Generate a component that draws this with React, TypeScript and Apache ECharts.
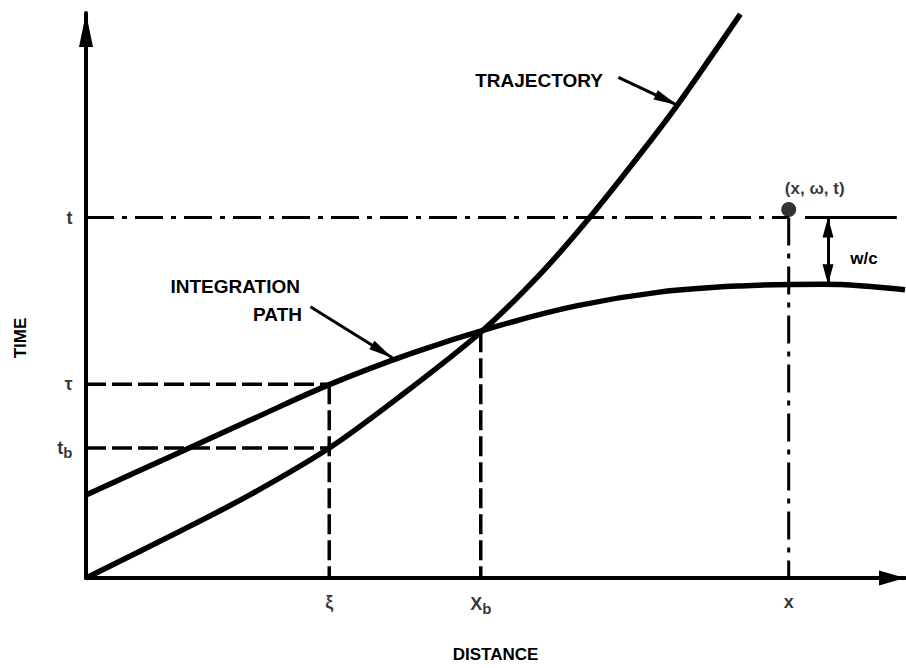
import React, { useEffect, useRef } from "react";
import * as echarts from "echarts";

// ---- data (distance / time units) ----
const trajectoryX = [0, 1.15, 2.0, 2.97, 3.83, 4.82, 5.54, 6.15, 6.76, 7.22, 7.99];
const trajectoryY = [0, 0.83, 1.47, 2.3, 3.21, 4.35, 5.37, 6.38, 7.49, 8.37, 9.98];

const pathX = [0, 1, 2, 3, 4, 5, 6, 7, 8, 9, 10];
const pathY = [1.47, 2.13, 2.79, 3.44, 3.99, 4.45, 4.82, 5.06, 5.17, 5.2, 5.1];

const xTickNames = ["ξ", "X_b", "x"];
const xTickValues = [2.97, 4.82, 8.58];
const yTickNames = ["t", "τ", "t_b"];
const yTickValues = [6.38, 3.43, 2.3];
const crossingTime = [4.35]; // where trajectory meets integration path at X_b

const referenceSegment = [8.78, 9.9]; // solid reference line at t, right of the point
const wcArrow = [9.06, 6.38, 5.2]; // x, from t down to the path
const trajectoryArrow = [[6.5, 8.86], [7.22, 8.37]];
const pathArrow = [[2.74, 4.8], [3.74, 3.9]];

const FONT = '"Liberation Sans", Arial, Helvetica, sans-serif';

function fmt(n: string) {
  if (n.includes("_")) {
    const [a, b] = n.split("_");
    return `{m|${a}}{s|${b}}`;
  }
  return `{m|${n}}`;
}

export default function App() {
  const ref = useRef<HTMLDivElement>(null);
  useEffect(() => {
    const chart = echarts.init(ref.current!, null, { renderer: "svg" });
    const [xiV, xbV, xV] = xTickValues;
    const [tV, tauV, tbV] = yTickValues;
    const xbY = crossingTime[0];

    const seg = (data: number[][], type: any, width: number) => ({
      type: "line",
      data,
      symbol: "none",
      silent: true,
      clip: false,
      lineStyle: { color: "#000", width, type, cap: "butt" },
      z: 2,
    });

    const rich = {
      m: { fontFamily: FONT, fontWeight: "bold", fontSize: 18, color: "#000" },
      s: { fontFamily: FONT, fontWeight: "bold", fontSize: 15, color: "#000", padding: [8, 0, 0, 0] },
    };

    const dash = [20, 6];
    const dashDot = [28, 8, 5, 8];

    const option: any = {
      animation: false,
      grid: { left: 86, right: 1, top: 13, bottom: 78 },
      xAxis: {
        type: "value",
        min: 0,
        max: 10,
        axisLine: {
          lineStyle: { color: "#000", width: 4 },
          symbol: ["none", "triangle"],
          symbolSize: [15, 26],
          symbolOffset: [0, -13],
        },
        axisTick: { show: false },
        axisLabel: { show: false },
        splitLine: { show: false },
        name: "DISTANCE",
        nameLocation: "middle",
        nameGap: 68,
        nameTextStyle: { fontFamily: FONT, fontWeight: "bold", fontSize: 17, color: "#000" },
      },
      yAxis: {
        type: "value",
        min: 0,
        max: 10,
        axisLine: {
          lineStyle: { color: "#000", width: 4 },
          symbol: ["none", "triangle"],
          symbolSize: [14, 34],
          symbolOffset: [0, -17],
        },
        axisTick: { show: false },
        axisLabel: { show: false },
        splitLine: { show: false },
      },
      series: [
        {
          type: "line",
          name: "TRAJECTORY",
          data: trajectoryX.map((x, i) => [x, trajectoryY[i]]),
          smooth: 0.3,
          symbol: "none",
          clip: false,
          silent: true,
          lineStyle: { color: "#000", width: 5.5 },
          z: 3,
          markLine: {
            silent: true,
            animation: false,
            symbol: ["none", "triangle"],
            symbolSize: [10, 24],
            symbolOffset: [[0, 0], [0, 12]],
            lineStyle: { color: "#000", width: 3, type: "solid" },
            label: { show: false },
            data: [
              [{ coord: trajectoryArrow[0] }, { coord: trajectoryArrow[1] }],
              [{ coord: pathArrow[0] }, { coord: pathArrow[1] }],
            ],
          },
        },
        {
          type: "line",
          name: "INTEGRATION PATH",
          data: pathX.map((x, i) => [x, pathY[i]]),
          smooth: 0.4,
          symbol: "none",
          clip: false,
          silent: true,
          lineStyle: { color: "#000", width: 5.5 },
          z: 3,
          markLine: {
            silent: true,
            animation: false,
            symbol: ["triangle", "triangle"],
            symbolSize: [11, 20],
            symbolOffset: [[0, 10], [0, 10]],
            lineStyle: { color: "#000", width: 3, type: "solid" },
            label: { show: false },
            data: [[{ coord: [wcArrow[0], wcArrow[1]] }, { coord: [wcArrow[0], wcArrow[2]] }]],
          },
        },
        seg([[0, tauV], [xiV, tauV]], dash, 3.5),
        seg([[0, tbV], [xiV, tbV]], dash, 3.5),
        seg([[xiV, tauV], [xiV, 0]], dash, 3.5),
        seg([[xbV, xbY], [xbV, 0]], dash, 3.5),
        seg([[0, tV], [xV, tV]], dashDot, 3),
        seg([[xV, tV], [xV, 0]], dashDot, 3),
        seg([[referenceSegment[0], tV], [referenceSegment[1], tV]], "solid", 3),
        {
          type: "scatter",
          data: [[xV, tV]],
          symbolSize: 15,
          symbolOffset: [0, -8],
          itemStyle: { color: "#000" },
          silent: true,
          z: 4,
          label: {
            show: true,
            position: "top",
            distance: 5,
            formatter: "(x, ω, t)",
            fontFamily: FONT,
            fontWeight: "bold",
            fontSize: 17,
            color: "#000",
            offset: [26, 0],
          },
        },
        {
          type: "scatter",
          data: yTickNames.map((n, i) => ({ name: n, value: [0, yTickValues[i]] })),
          symbolSize: 1,
          itemStyle: { color: "rgba(0,0,0,0)" },
          silent: true,
          label: { show: true, position: "left", distance: 13, formatter: (p: any) => fmt(p.name), rich },
        },
        {
          type: "scatter",
          data: xTickNames.map((n, i) => ({ name: n, value: [xTickValues[i], 0] })),
          symbolSize: 1,
          itemStyle: { color: "rgba(0,0,0,0)" },
          silent: true,
          label: { show: true, position: "bottom", distance: 14, formatter: (p: any) => fmt(p.name), rich },
        },
      ],
      graphic: [
        {
          type: "text",
          x: 603,
          y: 80,
          style: { text: "TRAJECTORY", font: `bold 19px ${FONT}`, fill: "#000", textAlign: "right", textVerticalAlign: "middle" },
        },
        {
          type: "text",
          x: 300,
          y: 286,
          style: { text: "INTEGRATION", font: `bold 19px ${FONT}`, fill: "#000", textAlign: "right", textVerticalAlign: "middle" },
        },
        {
          type: "text",
          x: 302,
          y: 314,
          style: { text: "PATH", font: `bold 19px ${FONT}`, fill: "#000", textAlign: "right", textVerticalAlign: "middle" },
        },
        {
          type: "text",
          x: 20,
          y: 338,
          rotation: Math.PI / 2,
          style: { text: "TIME", font: `bold 17px ${FONT}`, fill: "#000", textAlign: "center", textVerticalAlign: "middle" },
        },
        {
          type: "text",
          x: 864,
          y: 258,
          style: { text: "w/c", font: `bold 17px ${FONT}`, fill: "#000", textAlign: "center", textVerticalAlign: "middle" },
        },
      ],
    };
    chart.setOption(option);
    return () => chart.dispose();
  }, []);
  return <div ref={ref} style={{ position: "fixed", left: 0, top: 0, width: 906, height: 668, background: "#fff" }} />;
}
